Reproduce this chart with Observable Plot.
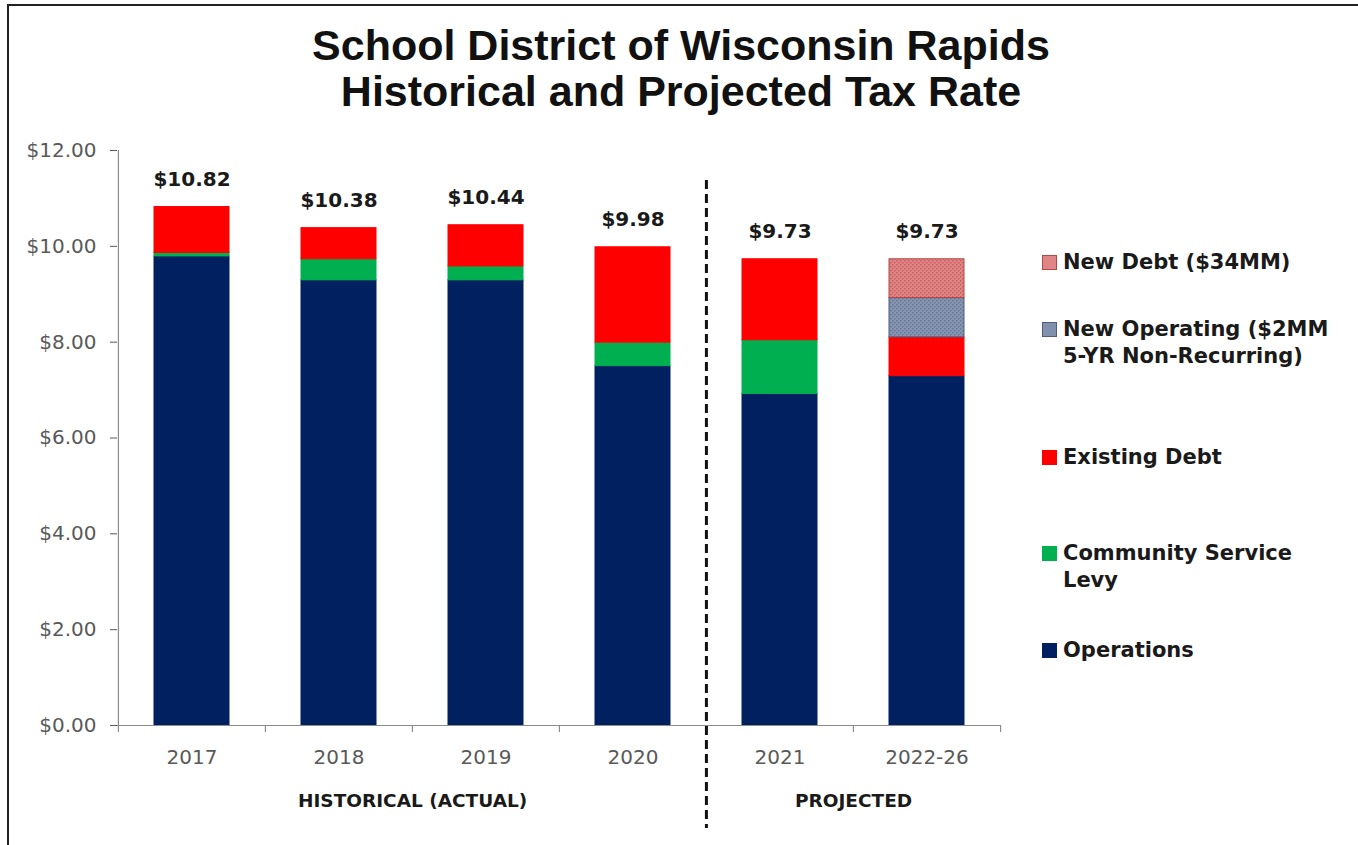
<!DOCTYPE html>
<html><head><meta charset="utf-8">
<script src="https://cdn.jsdelivr.net/npm/d3@7"></script>
<script src="https://cdn.jsdelivr.net/npm/@observablehq/plot@0.6"></script>
<style>
body{margin:0;background:#fff;}
#wrap{position:relative;width:1358px;height:845px;overflow:hidden;background:#fff;}
#frame{position:absolute;left:7px;top:4px;width:1400px;height:900px;border:2px solid #222;box-sizing:border-box;}
#title{position:absolute;left:0;top:22px;width:1362px;text-align:center;font:bold 43px "Liberation Sans",Arial,sans-serif;line-height:46px;color:#111;}
#chart{position:absolute;left:0;top:140px;}
.legend-item{position:absolute;left:1042px;display:flex;align-items:flex-start;font:bold 21px "DejaVu Sans",sans-serif;line-height:27px;color:#1a1a1a;white-space:pre;}
.sw{width:15px;height:15px;margin-right:6px;margin-top:6px;flex:none;box-sizing:border-box;}
</style></head>
<body><div id="wrap"><div id="frame"></div><div id="title"></div><div id="chart"></div><div id="legend"></div></div>
<script>
// ---- data ----
const titleLines = ["School District of Wisconsin Rapids", "Historical and Projected Tax Rate"];
const years = ["2017", "2018", "2019", "2020", "2021", "2022-26"];
const seriesNames = ["Operations", "Community Service Levy", "Existing Debt", "New Operating ($2MM 5-YR Non-Recurring)", "New Debt ($34MM)"];
const operations       = [9.79, 9.29, 9.29, 7.50, 6.92, 7.29];
const communityService = [0.07, 0.44, 0.29, 0.49, 1.12, 0];
const existingDebt     = [0.96, 0.65, 0.86, 1.99, 1.69, 0.81];
const newOperating     = [0, 0, 0, 0, 0, 0.82];
const newDebt          = [0, 0, 0, 0, 0, 0.81];
const totals           = [10.82, 10.38, 10.44, 9.98, 9.73, 9.73];
const yTicks = [0, 2, 4, 6, 8, 10, 12];
const groupLabels = ["HISTORICAL (ACTUAL)", "PROJECTED"];
const groupAfter  = ["2018", "2021"];   // group label sits on the boundary after this category
const dividerBefore = "2021";
const legendOrder = ["New Debt ($34MM)", "New Operating ($2MM 5-YR Non-Recurring)", "Existing Debt", "Community Service Levy", "Operations"];
const legendText  = ["New Debt ($34MM)", "New Operating ($2MM\n5-YR Non-Recurring)", "Existing Debt", "Community Service\nLevy", "Operations"];

// ---- styling ----
const colors = ["#002060", "#00b050", "#ff0000", "url(#hatchOp)", "url(#hatchDebt)"];
const swatchCss = ["#002060", "#00b050", "#ff0000", "#8090ad", "#e08585"];
const strokes = ["#002060", "#00b050", "#ff0000", "#4f5d78", "#b04848"];

document.getElementById("title").innerHTML = titleLines.join("<br>");

const seriesValues = [operations, communityService, existingDebt, newOperating, newDebt];
const rows = [];
seriesNames.forEach((s, si) => years.forEach((yr, i) => {
  if (seriesValues[si][i] > 0) rows.push({year: yr, series: s, value: seriesValues[si][i]});
}));
const totalRows = years.map((yr, i) => ({year: yr, total: totals[i]}));

const W = 1030, H = 705, mL = 117, mR = 30, mT = 10, mB = 120;
const plotH = H - mT - mB;
const step = (W - mL - mR) / years.length;
const axisGray = "#8c8c8c";

const chart = Plot.plot({
  width: W, height: H,
  marginLeft: mL, marginRight: mR, marginTop: mT, marginBottom: mB,
  style: {fontFamily: "DejaVu Sans, sans-serif", fontSize: "20px", color: "#595959", background: "transparent", overflow: "visible"},
  x: {domain: years, paddingInner: 0.49, paddingOuter: 0.245, tickSize: 0, tickPadding: 24, label: null},
  y: {domain: [0, 12], ticks: yTicks, tickFormat: d => "$" + d.toFixed(2), tickSize: 7, tickPadding: 14, label: null},
  color: {domain: seriesNames, range: colors},
  marks: [
    Plot.barY(rows, Plot.stackY({x: "year", y: "value", fill: "series", order: seriesNames,
      stroke: d => strokes[seriesNames.indexOf(d.series)], strokeWidth: 1})),
    Plot.ruleY([0], {stroke: axisGray, strokeWidth: 1.2}),
    Plot.ruleX([years[0]], {x: d => d, dx: -step / 2, stroke: axisGray, strokeWidth: 1.2}),
    Plot.ruleX(years, {x: d => d, dx: -step / 2, insetTop: plotH, insetBottom: -7, stroke: axisGray, strokeWidth: 1.2}),
    Plot.ruleX([years[years.length - 1]], {x: d => d, dx: step / 2, insetTop: plotH, insetBottom: -7, stroke: axisGray, strokeWidth: 1.2}),
    Plot.ruleX([dividerBefore], {x: d => d, dx: -step / 2, insetTop: 30, insetBottom: -103, stroke: "#111", strokeWidth: 3, strokeDasharray: "9,5"}),
    Plot.text(totalRows, {x: "year", y: "total", text: d => "$" + d.total.toFixed(2), lineAnchor: "bottom", dy: -21,
      fontWeight: "bold", fontSize: 20, fill: "#1a1a1a"}),
    Plot.text(groupLabels, {x: (d, i) => groupAfter[i], dx: step / 2, frameAnchor: "bottom", dy: 81, text: d => d,
      fontWeight: "bold", fontSize: 18.5, fill: "#1a1a1a"})
  ]
});

// hatch patterns for the projected new levies
const ns = "http://www.w3.org/2000/svg";
const defs = document.createElementNS(ns, "defs");
defs.innerHTML = `
<pattern id="hatchDebt" width="4" height="4" patternUnits="userSpaceOnUse">
  <rect width="4" height="4" fill="#e08585"/><rect x="0" y="0" width="1.5" height="1.5" fill="#c86060"/><rect x="2" y="2" width="1.5" height="1.5" fill="#c86060"/>
</pattern>
<pattern id="hatchOp" width="4" height="4" patternUnits="userSpaceOnUse">
  <rect width="4" height="4" fill="#8595b2"/><rect x="0" y="0" width="1.5" height="1.5" fill="#6a7896"/><rect x="2" y="2" width="1.5" height="1.5" fill="#6a7896"/>
</pattern>`;
chart.insertBefore(defs, chart.firstChild);
document.getElementById("chart").appendChild(chart);

// legend
const legendCenters = [262, 329, 457, 553, 650];
const legend = document.getElementById("legend");
legendOrder.forEach((s, k) => {
  const si = seriesNames.indexOf(s);
  const item = document.createElement("div");
  item.className = "legend-item";
  item.style.top = (legendCenters[k] - 13.5) + "px";
  const sw = document.createElement("div");
  sw.className = "sw";
  sw.style.background = swatchCss[si];
  sw.style.border = "1px solid " + strokes[si];
  const tx = document.createElement("div");
  tx.textContent = legendText[k];
  item.appendChild(sw); item.appendChild(tx);
  legend.appendChild(item);
});
</script>
</body></html>
